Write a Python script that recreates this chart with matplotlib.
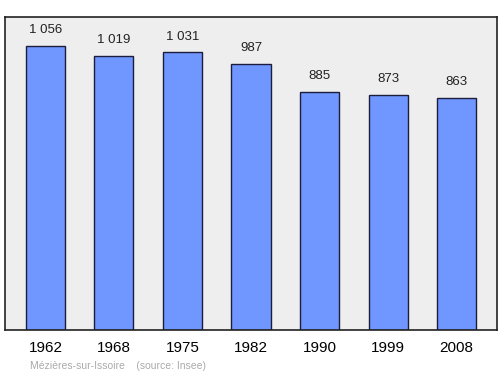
import matplotlib
matplotlib.use("Agg")
import matplotlib.pyplot as plt

plt.rcParams['font.family'] = ['Liberation Sans', 'DejaVu Sans']

years = ["1962", "1968", "1975", "1982", "1990", "1999", "2008"]
population = [1056, 1019, 1031, 987, 885, 873, 863]
value_labels = ["1 056", "1 019", "1 031", "987", "885", "873", "863"]

fig = plt.figure(figsize=(5, 3.74), dpi=100)
ax = fig.add_axes([0.01, 0.1176, 0.984, 0.837])
ax.set_facecolor("#eeeeee")

x = list(range(len(years)))
bars = ax.bar(x, population, width=0.57, color="#7097ff", edgecolor="#1c1c3c", linewidth=1)

for xi, val, lab in zip(x, population, value_labels):
    ax.annotate(lab, (xi, val), xytext=(0, 7), textcoords="offset points",
                ha="center", va="bottom", fontsize=9.5, color="#222222")

ax.set_xlim(-0.59, 6.59)
ax.set_ylim(0, 1162)
ax.set_xticks(x)
ax.set_xticklabels(years, fontsize=11)
ax.tick_params(axis="x", length=0, pad=8)
ax.set_yticks([])
for s in ax.spines.values():
    s.set_linewidth(1.2)
    s.set_color("#222222")

fig.text(0.06, 0.014, "Mézières-sur-Issoire    (source: Insee)", fontsize=7.5, color="#aaaaaa")

fig.savefig("out.png", dpi=100)
